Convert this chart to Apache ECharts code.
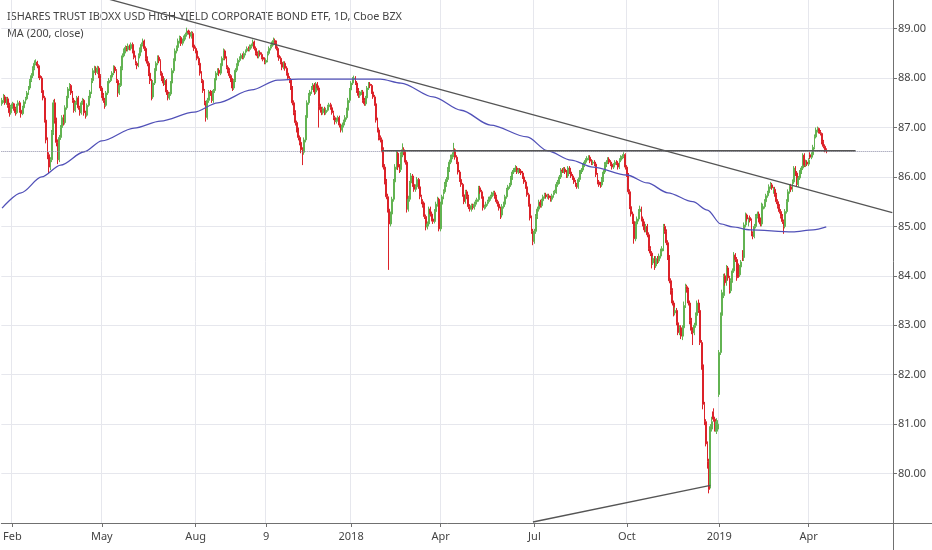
<!DOCTYPE html>
<html><head><meta charset="utf-8">
<script src="https://cdn.jsdelivr.net/npm/echarts@6/dist/echarts.min.js"></script>
<style>html,body{margin:0;padding:0;background:#fff}#c{width:932px;height:550px}</style>
</head><body><div id="c"></div>
<script>
const titleText = 'ISHARES TRUST IBOXX USD HIGH YIELD CORPORATE BOND ETF, 1D, Cboe BZX';
const studyText = 'MA (200, close)';
const firstSession = '2017-01-23';
const sessionSlots = 608;
const holidays = ['2017-02-20','2017-04-14','2017-05-29','2017-07-04','2017-09-04','2017-11-23','2017-12-25',
 '2018-01-01','2018-01-15','2018-02-19','2018-03-30','2018-05-28','2018-07-04','2018-09-03','2018-11-22','2018-12-05','2018-12-25',
 '2019-01-01','2019-01-21','2019-02-18','2019-04-19','2019-05-27','2019-07-04'];
const tickDates = ['2017-02-01','2017-05-01','2017-08-01','2017-10-09','2018-01-02','2018-04-02','2018-07-02','2018-10-01','2019-01-02','2019-04-01'];
const tickLabels = ['Feb','May','Aug','9','2018','Apr','Jul','Oct','2019','Apr'];

const closes = [
87.55,87.62,87.50,87.58,87.45,87.30,87.42,
87.48,87.38,87.30,87.45,87.50,87.35,87.28,87.40,87.52,87.58,87.70,87.80,87.95,88.05,88.20,88.30,88.32,88.25,88.05,
88.00,87.75,87.60,87.15,86.75,86.45,86.20,86.35,86.90,87.50,87.15,86.70,86.35,86.80,87.00,87.20,87.10,87.40,87.60,87.78,87.85,87.70,87.55,
87.35,87.50,87.60,87.40,87.30,87.50,87.55,87.30,87.25,87.45,87.60,87.72,87.95,88.15,88.20,88.12,88.20,88.05,87.80,
87.65,87.55,87.45,87.70,87.90,87.95,88.02,88.10,88.22,88.15,87.95,87.70,87.85,88.20,88.45,88.55,88.62,88.58,88.65,88.60,88.68,88.55,
88.42,88.30,88.25,88.45,88.57,88.68,88.75,88.60,88.40,88.30,88.10,87.95,87.62,87.90,88.15,88.30,88.42,88.35,88.10,88.00,87.90,87.95,
87.72,87.60,87.68,87.90,88.15,88.35,88.55,88.62,88.75,88.82,88.70,88.75,88.82,88.88,88.95,88.92,88.85,88.90,88.67,88.60,
88.55,88.40,88.30,88.10,87.95,87.75,87.50,87.21,87.55,87.72,87.70,87.55,87.75,87.96,88.10,88.16,88.10,88.25,88.40,88.55,88.40,88.22,88.15,
88.05,87.96,87.80,87.95,88.16,88.25,88.36,88.40,88.46,88.42,88.50,88.55,88.60,88.58,88.64,88.67,88.73,88.60,88.50,88.45,
88.52,88.48,88.42,88.38,88.32,88.36,88.50,88.60,88.64,88.70,88.76,88.72,88.60,88.46,88.40,88.32,88.22,88.30,88.20,88.10,88.00,87.96,
87.80,87.50,87.30,87.10,86.95,86.80,86.70,86.55,86.50,86.75,87.20,87.50,87.65,87.72,87.80,87.86,87.72,87.88,87.80,87.42,87.36,
87.30,87.38,87.30,87.35,87.42,87.46,87.40,87.30,87.20,87.12,87.15,87.20,87.05,86.95,87.05,87.12,87.20,87.35,87.55,87.76,
87.90,87.98,88.00,87.90,87.75,87.65,87.70,87.72,87.55,87.48,87.60,87.80,87.88,87.85,87.72,87.62,87.48,87.15,86.95,86.80,86.75,
86.55,86.20,85.90,85.60,85.35,85.05,85.25,85.55,85.90,86.20,86.48,86.20,86.15,86.45,86.55,86.50,86.30,85.35,85.55,
85.88,86.02,85.85,85.75,85.80,85.95,85.80,85.60,85.50,85.43,85.20,84.99,85.05,85.35,85.25,85.15,85.10,85.30,85.45,85.55,84.95,
85.45,85.60,85.70,85.85,85.95,86.15,86.30,86.40,86.45,86.55,86.40,86.30,86.10,85.95,85.85,85.64,85.50,85.70,85.60,85.40,85.35,
85.42,85.38,85.45,85.50,85.54,85.78,85.70,85.60,85.38,85.40,85.45,85.50,85.55,85.60,85.65,85.68,85.60,85.50,85.45,85.37,85.23,85.40,
85.45,85.60,85.74,85.80,85.84,85.98,86.10,86.14,86.18,86.10,86.14,86.12,86.08,86.00,85.90,85.80,85.64,85.45,85.17,84.90,84.70,
84.90,85.20,85.35,85.49,85.42,85.52,85.60,85.64,85.60,85.62,85.58,85.55,85.62,85.68,85.70,85.85,85.90,86.00,86.14,86.12,86.16,
86.10,86.02,86.18,86.10,86.02,85.98,85.90,85.84,85.80,85.95,86.10,86.14,86.24,86.30,86.34,86.38,86.40,86.32,86.28,86.30,86.26,86.05,85.90,
85.85,85.84,85.95,86.10,86.25,86.30,86.36,86.30,86.26,86.20,86.25,86.30,86.28,86.20,86.34,86.40,86.42,86.45,86.20,
86.04,85.70,85.40,85.25,85.10,84.75,85.05,85.15,85.30,85.35,85.15,85.05,84.93,85.00,84.83,84.55,84.46,84.26,84.35,84.20,84.35,84.30,84.40,
84.50,84.55,85.00,84.90,84.67,84.38,83.90,83.70,83.45,83.25,83.30,83.05,82.85,82.95,82.78,82.95,83.40,83.78,83.72,83.45,83.10,
82.90,82.85,83.00,83.20,83.45,83.30,82.65,82.20,81.40,81.05,80.60,80.25,79.68,80.95,81.05,81.10,80.90,81.05,81.00,
82.45,83.20,83.66,83.98,83.86,84.16,83.96,83.70,83.90,84.10,84.42,84.33,83.96,84.02,84.18,84.28,84.37,85.03,85.23,85.15,85.13,
85.12,84.85,84.80,85.00,85.20,85.25,85.13,85.05,85.43,85.40,85.50,85.62,85.68,85.80,85.84,85.78,85.75,85.64,85.50,
85.40,85.30,85.20,85.10,85.00,85.30,85.50,85.70,85.80,85.75,85.90,86.18,86.08,85.85,85.98,86.10,86.18,86.44,86.24,86.30,86.26,
86.34,86.40,86.45,86.60,86.81,86.95,86.98,86.92,86.88,86.71,86.62,86.55,86.53];

const opens = [
87.48,87.55,87.62,87.50,87.58,87.45,87.30,
87.42,87.48,87.38,87.30,87.45,87.50,87.35,87.28,87.40,87.52,87.58,87.70,87.80,87.95,88.05,88.20,88.30,88.32,88.25,
88.05,88.00,87.75,87.60,87.15,86.75,86.45,86.20,86.35,86.90,87.50,87.15,86.70,86.35,86.80,87.00,87.20,87.10,87.40,87.60,87.78,87.85,87.70,
87.55,87.35,87.50,87.60,87.40,87.30,87.50,87.55,87.30,87.25,87.45,87.60,87.72,87.95,88.15,88.20,88.12,88.20,88.05,
87.80,87.65,87.55,87.45,87.70,87.90,87.95,88.02,88.10,88.22,88.15,87.95,87.70,87.85,88.20,88.45,88.55,88.62,88.58,88.65,88.60,88.68,
88.55,88.42,88.30,88.25,88.45,88.57,88.68,88.75,88.60,88.40,88.30,88.10,87.95,87.62,87.90,88.15,88.30,88.42,88.35,88.10,88.00,87.90,
87.95,87.72,87.60,87.68,87.90,88.15,88.35,88.55,88.62,88.75,88.82,88.70,88.75,88.82,88.88,88.95,88.92,88.85,88.90,88.67,
88.60,88.55,88.40,88.30,88.10,87.95,87.75,87.50,87.21,87.55,87.72,87.70,87.55,87.75,87.96,88.10,88.16,88.10,88.25,88.40,88.55,88.40,88.22,
88.15,88.05,87.96,87.80,87.95,88.16,88.25,88.36,88.40,88.46,88.42,88.50,88.55,88.60,88.58,88.64,88.67,88.73,88.60,88.50,
88.45,88.52,88.48,88.42,88.38,88.32,88.36,88.50,88.60,88.64,88.70,88.76,88.72,88.60,88.46,88.40,88.32,88.22,88.30,88.20,88.10,88.00,
87.96,87.80,87.50,87.30,87.10,86.95,86.80,86.70,86.55,86.50,86.75,87.20,87.50,87.65,87.72,87.80,87.86,87.72,87.88,87.80,87.42,
87.36,87.30,87.38,87.30,87.35,87.42,87.46,87.40,87.30,87.20,87.12,87.15,87.20,87.05,86.95,87.05,87.12,87.20,87.35,87.55,
87.76,87.90,87.98,88.00,87.90,87.75,87.65,87.70,87.72,87.55,87.48,87.60,87.80,87.88,87.85,87.72,87.62,87.48,87.15,86.95,86.80,
86.75,86.55,86.20,85.90,85.60,85.35,85.05,85.25,85.55,85.90,86.20,86.48,86.20,86.15,86.45,86.55,86.50,86.30,85.35,
85.55,85.88,86.02,85.85,85.75,85.80,85.95,85.80,85.60,85.50,85.43,85.20,84.99,85.05,85.35,85.25,85.15,85.10,85.30,85.45,85.55,
84.95,85.45,85.60,85.70,85.85,85.95,86.15,86.30,86.40,86.45,86.55,86.40,86.30,86.10,85.95,85.85,85.64,85.50,85.70,85.60,85.40,
85.35,85.42,85.38,85.45,85.50,85.54,85.78,85.70,85.60,85.38,85.40,85.45,85.50,85.55,85.60,85.65,85.68,85.60,85.50,85.45,85.37,85.23,
85.40,85.45,85.60,85.74,85.80,85.84,85.98,86.10,86.14,86.18,86.10,86.14,86.12,86.08,86.00,85.90,85.80,85.64,85.45,85.17,84.90,
84.70,84.90,85.20,85.35,85.49,85.42,85.52,85.60,85.64,85.60,85.62,85.58,85.55,85.62,85.68,85.70,85.85,85.90,86.00,86.14,86.12,
86.16,86.10,86.02,86.18,86.10,86.02,85.98,85.90,85.84,85.80,85.95,86.10,86.14,86.24,86.30,86.34,86.38,86.40,86.32,86.28,86.30,86.26,86.05,
85.90,85.85,85.84,85.95,86.10,86.25,86.30,86.36,86.30,86.26,86.20,86.25,86.30,86.28,86.20,86.34,86.40,86.42,86.45,
86.20,86.04,85.70,85.40,85.25,85.10,84.75,85.05,85.15,85.30,85.35,85.15,85.05,84.93,85.00,84.83,84.55,84.46,84.26,84.35,84.20,84.35,84.30,
84.40,84.50,84.55,85.00,84.90,84.67,84.38,83.90,83.70,83.45,83.25,83.30,83.05,82.85,82.95,82.78,82.95,83.40,83.78,83.72,83.45,
83.10,82.90,82.85,83.00,83.20,83.45,83.30,82.65,82.20,81.40,81.05,80.60,80.25,79.75,80.90,81.25,81.10,80.85,80.90,
81.60,82.45,83.20,83.60,84.00,83.86,84.16,83.96,83.70,83.90,84.10,84.42,84.33,84.20,84.02,84.18,84.48,84.37,85.03,85.23,85.05,
85.18,85.12,84.85,84.80,85.00,85.20,85.25,85.13,85.05,85.35,85.40,85.50,85.62,85.68,85.80,85.84,85.70,85.75,85.64,
85.50,85.40,85.30,85.20,85.10,85.00,85.30,85.50,85.70,85.80,85.75,85.90,86.18,86.08,85.85,85.98,86.10,86.18,86.44,86.24,86.30,
86.26,86.45,86.40,86.45,86.60,86.81,86.95,86.98,86.92,86.88,86.71,86.62,86.55];

const highs = [
87.60,87.68,87.66,87.62,87.62,87.50,87.46,
87.52,87.50,87.42,87.48,87.55,87.54,87.38,87.44,87.56,87.62,87.74,87.84,87.98,88.10,88.24,88.36,88.38,88.35,88.28,
88.10,88.04,87.80,87.64,87.20,86.80,86.50,86.40,86.95,87.56,87.58,87.20,86.76,86.85,87.05,87.25,87.26,87.45,87.64,87.82,87.90,87.88,87.74,
87.60,87.54,87.64,87.64,87.44,87.54,87.60,87.58,87.34,87.49,87.64,87.76,88.00,88.20,88.25,88.24,88.25,88.24,88.08,
87.84,87.70,87.60,87.74,87.94,88.00,88.06,88.14,88.26,88.25,88.18,87.98,87.90,88.24,88.50,88.60,88.66,88.65,88.70,88.68,88.72,88.72,
88.60,88.46,88.34,88.50,88.62,88.72,88.80,88.78,88.64,88.44,88.34,88.14,87.98,87.95,88.20,88.34,88.46,88.46,88.38,88.14,88.04,88.00,
87.98,87.76,87.72,87.94,88.20,88.40,88.60,88.66,88.80,88.86,88.85,88.80,88.86,88.92,89.02,88.98,88.96,88.95,88.94,88.72,
88.64,88.58,88.44,88.34,88.14,87.98,87.78,87.54,87.60,87.76,87.76,87.74,87.78,88.00,88.14,88.20,88.20,88.30,88.44,88.60,88.58,88.44,88.26,
88.20,88.08,88.00,87.98,88.20,88.30,88.40,88.44,88.50,88.50,88.54,88.58,88.64,88.64,88.68,88.70,88.78,88.76,88.64,88.54,
88.56,88.56,88.52,88.46,88.42,88.40,88.54,88.64,88.68,88.74,88.82,88.80,88.76,88.64,88.50,88.44,88.36,88.34,88.34,88.24,88.14,88.04,
88.00,87.84,87.55,87.35,87.14,87.00,86.84,86.74,86.60,86.80,87.25,87.55,87.70,87.76,87.84,87.90,87.90,87.92,87.92,87.85,87.48,
87.42,87.42,87.42,87.40,87.46,87.50,87.50,87.44,87.34,87.24,87.20,87.24,87.24,87.08,87.10,87.16,87.25,87.40,87.60,87.80,
87.94,88.02,88.05,88.04,87.94,87.80,87.74,87.76,87.76,87.60,87.64,87.84,87.92,87.92,87.88,87.76,87.66,87.52,87.20,87.00,86.84,
86.80,86.60,86.26,85.96,85.66,85.40,85.30,85.60,85.96,86.26,86.54,86.52,86.26,86.50,86.68,86.60,86.54,86.34,85.62,
85.92,86.08,86.06,85.90,85.85,86.00,85.98,85.84,85.64,85.55,85.48,85.24,85.10,85.40,85.40,85.30,85.20,85.35,85.50,85.60,85.58,
85.50,85.64,85.75,85.90,86.00,86.20,86.35,86.45,86.50,86.69,86.58,86.44,86.34,86.14,86.00,85.88,85.68,85.74,85.74,85.64,85.45,
85.46,85.46,85.50,85.54,85.58,85.82,85.82,85.74,85.64,85.44,85.50,85.54,85.60,85.64,85.70,85.72,85.72,85.64,85.54,85.48,85.40,85.45,
85.50,85.64,85.78,85.84,85.88,86.02,86.14,86.18,86.24,86.22,86.18,86.18,86.16,86.12,86.04,85.94,85.84,85.68,85.50,85.22,84.95,
84.95,85.25,85.40,85.54,85.54,85.56,85.64,85.68,85.68,85.66,85.66,85.62,85.66,85.72,85.74,85.90,85.94,86.04,86.18,86.18,86.20,
86.20,86.14,86.22,86.22,86.14,86.06,86.02,85.94,85.88,85.99,86.14,86.18,86.28,86.34,86.38,86.42,86.44,86.44,86.36,86.34,86.34,86.30,86.08,
85.94,85.90,86.00,86.14,86.30,86.34,86.40,86.40,86.34,86.30,86.28,86.34,86.34,86.32,86.38,86.44,86.46,86.50,86.48,
86.24,86.08,85.75,85.45,85.30,85.14,85.10,85.20,85.35,85.42,85.40,85.20,85.10,85.05,85.05,84.88,84.60,84.50,84.40,84.40,84.40,84.40,84.45,
84.55,84.60,85.05,85.05,84.94,84.72,84.42,83.95,83.75,83.50,83.36,83.35,83.10,83.00,83.00,83.00,83.48,83.84,83.82,83.76,83.50,
83.15,82.96,83.05,83.26,83.50,83.52,83.35,82.70,82.25,81.45,81.10,80.65,80.30,81.00,81.15,81.32,81.15,81.12,81.08,
82.50,83.26,83.72,84.04,84.05,84.22,84.20,84.00,83.95,84.15,84.48,84.46,84.38,84.25,84.22,84.32,84.52,85.08,85.28,85.26,85.18,
85.22,85.16,84.90,85.05,85.25,85.30,85.30,85.18,85.48,85.46,85.55,85.66,85.72,85.85,85.90,85.88,85.80,85.80,85.68,
85.55,85.45,85.35,85.25,85.14,85.35,85.55,85.75,85.85,85.86,85.95,86.22,86.22,86.12,86.02,86.14,86.22,86.48,86.48,86.35,86.34,
86.38,86.50,86.50,86.65,86.86,87.00,87.02,87.00,86.95,86.90,86.75,86.66,86.58];

const lows = [
87.44,87.50,87.46,87.46,87.40,87.22,87.26,
87.38,87.34,87.24,87.27,87.42,87.30,87.20,87.25,87.37,87.48,87.55,87.66,87.76,87.92,88.00,88.16,88.26,88.20,88.00,
87.96,87.70,87.55,87.10,86.68,86.36,86.08,86.14,86.30,86.85,87.08,86.62,86.26,86.30,86.75,86.95,87.04,87.06,87.36,87.56,87.74,87.66,87.50,
87.30,87.31,87.46,87.36,87.24,87.26,87.46,87.24,87.18,87.22,87.42,87.56,87.68,87.90,88.10,88.06,88.08,88.00,87.74,
87.60,87.50,87.38,87.42,87.66,87.86,87.92,87.98,88.06,88.10,87.90,87.62,87.66,87.82,88.16,88.42,88.50,88.54,88.54,88.56,88.56,88.50,
88.38,88.26,88.18,88.22,88.40,88.52,88.64,88.55,88.34,88.24,88.04,87.88,87.55,87.58,87.86,88.10,88.26,88.30,88.05,87.94,87.84,87.86,
87.66,87.55,87.56,87.64,87.86,88.10,88.30,88.50,88.58,88.70,88.65,88.66,88.70,88.78,88.84,88.88,88.80,88.80,88.62,88.55,
88.50,88.36,88.26,88.05,87.90,87.70,87.45,87.12,87.16,87.50,87.64,87.50,87.50,87.70,87.92,88.06,88.04,88.06,88.22,88.36,88.36,88.18,88.10,
88.00,87.92,87.74,87.76,87.92,88.12,88.22,88.32,88.36,88.38,88.38,88.46,88.52,88.54,88.54,88.60,88.64,88.56,88.46,88.40,
88.40,88.44,88.38,88.34,88.28,88.28,88.32,88.46,88.56,88.60,88.66,88.68,88.56,88.42,88.35,88.28,88.16,88.18,88.15,88.05,87.96,87.90,
87.76,87.45,87.25,87.04,86.90,86.74,86.64,86.48,86.24,86.45,86.70,87.15,87.46,87.60,87.68,87.76,87.66,87.68,87.75,87.00,87.30,
87.25,87.26,87.25,87.26,87.32,87.38,87.36,87.26,87.15,87.06,87.08,87.12,87.00,86.90,86.90,87.00,87.08,87.16,87.30,87.50,
87.72,87.86,87.94,87.86,87.70,87.60,87.60,87.66,87.50,87.44,87.44,87.56,87.76,87.80,87.68,87.58,87.44,87.10,86.90,86.74,86.70,
86.50,86.15,85.85,85.55,85.28,84.12,85.00,85.20,85.50,85.85,86.15,86.14,86.08,86.10,86.40,86.44,86.25,85.28,85.30,
85.50,85.84,85.80,85.70,85.70,85.76,85.76,85.55,85.45,85.38,85.15,84.92,84.94,85.00,85.20,85.10,85.05,85.06,85.26,85.40,84.90,
84.90,85.40,85.55,85.66,85.80,85.90,86.10,86.26,86.36,86.40,86.35,86.26,86.05,85.90,85.80,85.60,85.45,85.46,85.55,85.35,85.30,
85.30,85.34,85.34,85.40,85.46,85.50,85.66,85.56,85.32,85.34,85.36,85.42,85.46,85.52,85.56,85.62,85.56,85.46,85.40,85.32,85.15,85.18,
85.36,85.40,85.56,85.70,85.76,85.80,85.94,86.06,86.10,86.06,86.06,86.08,86.04,85.96,85.86,85.76,85.60,85.40,85.12,84.85,84.62,
84.65,84.85,85.15,85.30,85.38,85.38,85.48,85.56,85.56,85.56,85.54,85.50,85.50,85.58,85.64,85.66,85.80,85.86,85.96,86.08,86.08,
86.06,85.98,85.98,86.06,85.98,85.94,85.86,85.80,85.76,85.76,85.90,86.06,86.10,86.20,86.26,86.30,86.34,86.28,86.24,86.24,86.22,86.00,85.85,
85.80,85.78,85.80,85.90,86.06,86.20,86.26,86.26,86.22,86.15,86.16,86.20,86.24,86.15,86.16,86.30,86.36,86.38,86.15,
86.00,85.65,85.35,85.20,85.05,84.65,84.70,85.00,85.10,85.26,85.10,85.00,84.88,84.88,84.78,84.50,84.40,84.15,84.22,84.12,84.16,84.24,84.26,
84.35,84.45,84.50,84.85,84.62,84.32,83.85,83.62,83.40,83.18,83.20,83.00,82.80,82.80,82.72,82.70,82.90,83.35,83.66,83.40,83.02,
82.82,82.60,82.80,82.95,83.15,83.25,82.60,82.10,81.30,80.98,80.55,80.10,79.60,79.70,80.85,81.05,80.85,80.80,80.85,
81.55,82.40,83.15,83.55,83.80,83.80,83.90,83.64,83.65,83.86,84.06,84.28,83.90,83.96,83.98,84.14,84.30,84.30,84.98,85.10,85.00,
85.08,84.80,84.74,84.76,84.96,85.16,85.08,85.00,85.00,85.30,85.36,85.46,85.58,85.64,85.76,85.74,85.66,85.60,85.45,
85.36,85.26,85.16,85.05,84.85,84.96,85.26,85.46,85.66,85.70,85.70,85.86,86.02,85.80,85.80,85.94,86.06,86.14,86.20,86.20,86.22,
86.22,86.36,86.36,86.42,86.56,86.78,86.90,86.88,86.84,86.66,86.58,86.50,86.48];

// 200-day moving average, read at knots (bar number, value)
const maBar   = [0,13,27,40,56,68,90,108,131,147,170,188,202,238,258,272,294,313,333,358,372,388,403,426,440,454,471,481,490,498,510,539,553,562];
const maValue = [85.37,85.68,86.00,86.24,86.51,86.73,86.99,87.13,87.31,87.50,87.76,87.96,87.98,87.98,87.98,87.90,87.62,87.35,87.05,86.81,86.53,86.34,86.20,86.04,85.88,85.68,85.50,85.33,85.05,84.99,84.93,84.89,84.93,84.99];

// drawn trend lines: [bar, price] endpoints
const resistanceLine = [[60, 89.70], [607, 85.28]];
const levelLine = [[259, 86.53], [582, 86.53]];
const supportLine = [[362, 79.02], [483, 79.76]];

function sessions(start, n, hol) {
  const out = []; const d = new Date(start + 'T00:00:00Z');
  while (out.length < n) {
    const wd = d.getUTCDay(); const s = d.toISOString().slice(0, 10);
    if (wd !== 0 && wd !== 6 && hol.indexOf(s) < 0) out.push(s);
    d.setUTCDate(d.getUTCDate() + 1);
  }
  return out;
}
const dates = sessions(firstSession, sessionSlots, holidays);
const candles = closes.map((c, i) => [opens[i], c, lows[i], highs[i]]);
const lastPrice = closes[closes.length - 1];
const isTick = (i, v) => tickDates.indexOf(v) >= 0;

const UP = '#62b352', DOWN = '#dc2229', GRID = '#e6e7ed', AXIS = '#707070', TXT = '#444444';

const FONT = '11.5px "Noto Sans"';
const cv = document.createElement('canvas').getContext('2d');
cv.font = FONT;
const sx = 395 / cv.measureText(titleText).width;

const chart = echarts.init(document.getElementById('c'), null, {renderer: 'canvas'});
chart.setOption({
  animation: false,
  backgroundColor: '#ffffff',
  grid: {left: 0, right: 39, top: 0, bottom: 27},
  xAxis: {
    type: 'category', data: dates, boundaryGap: true,
    axisLine: {show: true, lineStyle: {color: AXIS, width: 1}},
    axisTick: {show: true, interval: isTick, alignWithLabel: true, length: 4, lineStyle: {color: AXIS}},
    axisLabel: {interval: isTick, formatter: v => { const k = tickDates.indexOf(v); return k >= 0 ? tickLabels[k] : ''; },
      color: TXT, fontSize: 11, fontFamily: 'Noto Sans', margin: 8},
    splitLine: {show: true, interval: isTick, lineStyle: {color: GRID, width: 1}}
  },
  yAxis: {
    type: 'value', position: 'right', min: 79, max: 89.58, interval: 1,
    axisLine: {show: true, lineStyle: {color: AXIS, width: 1}},
    axisTick: {show: true, length: 4, lineStyle: {color: AXIS}},
    axisLabel: {formatter: v => v.toFixed(2), color: TXT, fontSize: 11, fontFamily: 'Noto Sans', margin: 5,
      showMinLabel: false, showMaxLabel: false},
    splitLine: {show: true, showMinLine: false, showMaxLine: false, lineStyle: {color: GRID, width: 1}}
  },
  graphic: [
    {type: 'text', x: 7, y: 17, scaleX: sx, silent: true,
      style: {text: titleText, font: FONT, fill: TXT, verticalAlign: 'middle'}},
    {type: 'text', x: 7, y: 34, scaleX: sx, silent: true,
      style: {text: studyText, font: FONT, fill: TXT, verticalAlign: 'middle'}},
    {type: 'line', silent: true, shape: {x1: 893, y1: 523.5, x2: 932, y2: 523.5}, style: {stroke: AXIS, lineWidth: 1}},
    {type: 'line', silent: true, shape: {x1: 893.5, y1: 523, x2: 893.5, y2: 550}, style: {stroke: AXIS, lineWidth: 1}}
  ],
  series: [
    {
      type: 'candlestick', name: 'HYG', data: candles, barWidth: 1.4,
      itemStyle: {color: UP, color0: DOWN, borderColor: UP, borderColor0: DOWN, borderWidth: 1},
      markLine: {silent: true, symbol: ['none', 'none'], label: {show: false},
        lineStyle: {type: 'dotted', color: '#8c8ca6', width: 1}, data: [{yAxis: lastPrice}]},
      z: 3
    },
    {
      type: 'line', name: 'MA (200, close)', data: maBar.map((b, k) => [b, maValue[k]]),
      showSymbol: false, smooth: 0.3, smoothMonotone: 'x',
      lineStyle: {color: '#5151b8', width: 1.3}, z: 4
    },
    {type: 'line', data: resistanceLine, showSymbol: false, lineStyle: {color: '#555555', width: 1.3}, z: 5},
    {type: 'line', data: levelLine, showSymbol: false, lineStyle: {color: '#555555', width: 1.6}, z: 5},
    {type: 'line', data: supportLine, showSymbol: false, lineStyle: {color: '#555555', width: 1.3}, z: 5}
  ]
});
</script>
</body></html>
